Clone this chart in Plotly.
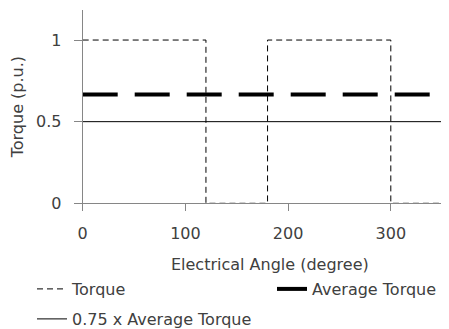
import plotly.graph_objects as go

angle = [0, 120, 120, 180, 180, 300, 300, 360]
torque = [1, 1, 0, 0, 1, 1, 0, 0]
avg_x = [0, 360]
avg_torque = [2/3, 2/3]
scaled_x = [0, 360]
scaled_torque = [0.5, 0.5]

txt = "#404040"
axc = "#868686"
font = "DejaVu Sans"
fs = 16

# the page body has an 8px margin; positions below are given in window pixels
OFF = 8
W, H = 449, 329

def px(page_x):
    return (page_x - OFF) / W
def py(page_y):
    return (H - (page_y - OFF)) / H

fig = go.Figure()
fig.add_trace(go.Scatter(x=angle, y=torque, mode="lines", name="Torque", legend="legend",
                         line=dict(color="black", width=1, dash="6px,4px")))
fig.add_trace(go.Scatter(x=avg_x, y=avg_torque, mode="lines", name="Average Torque", legend="legend2",
                         line=dict(color="black", width=4, dash="35px,17px")))
fig.add_trace(go.Scatter(x=scaled_x, y=scaled_torque, mode="lines", name="0.75 x Average Torque",
                         legend="legend3", line=dict(color="black", width=1)))

leg_common = dict(orientation="v", xanchor="left", yanchor="middle",
                  font=dict(family=font, size=fs, color=txt), bgcolor="rgba(0,0,0,0)")

x_left_page = 82.7
x_scale = 1.027  # px per degree
y_top_page, y_bot_page = 10, 203.3

fig.update_layout(
    width=W, height=H,
    margin=dict(l=0, r=0, t=0, b=0),
    paper_bgcolor="white", plot_bgcolor="white",
    font=dict(family=font, size=fs, color=txt),
    showlegend=True,
    legend=dict(x=px(32), y=py(289), **leg_common),
    legend2=dict(x=px(272), y=py(289), **leg_common),
    legend3=dict(x=px(32), y=py(319), **leg_common),
    xaxis=dict(domain=[px(x_left_page), 1], range=[0, (W + OFF - x_left_page) / x_scale],
               tickvals=[0, 100, 200, 300], showgrid=False,
               zeroline=False, showline=True, linecolor=axc, linewidth=1,
               ticks="outside", ticklen=7, tickcolor=axc, ticklabelstandoff=8, automargin=False,
               title=dict(text="Electrical Angle (degree)", standoff=17,
                          font=dict(family=font, size=fs, color=txt))),
    yaxis=dict(domain=[py(y_bot_page), py(y_top_page)], range=[0, 1.184], tickvals=[0, 0.5, 1],
               ticktext=["0", "0.5", "1"],
               showgrid=False, zeroline=False, showline=True, linecolor=axc, linewidth=1,
               ticks="outside", ticklen=8, tickcolor=axc, ticklabelstandoff=9, automargin=False,
               title=dict(text="Torque (p.u.)", standoff=10,
                          font=dict(family=font, size=fs, color=txt))),
)

fig.write_html("out.html")
